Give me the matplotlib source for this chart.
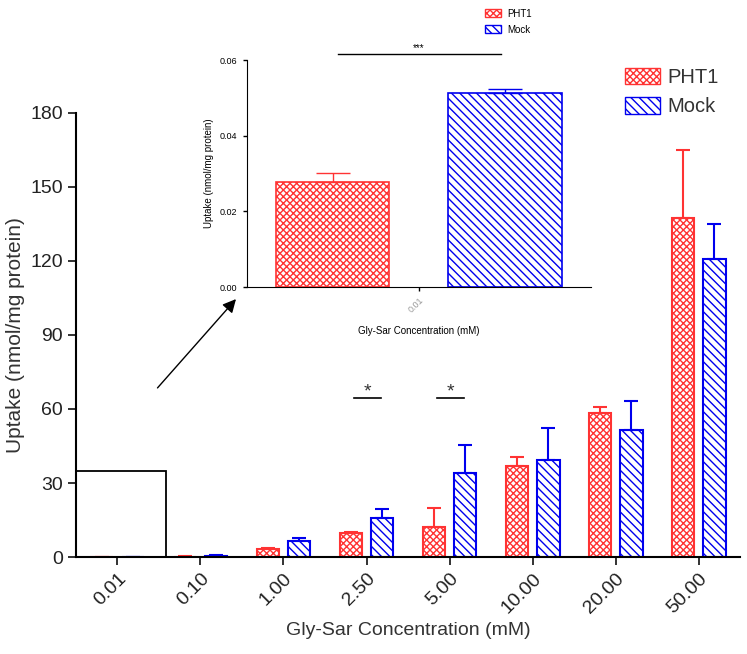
import numpy as np
import matplotlib
matplotlib.use("Agg")
import matplotlib.pyplot as plt
from matplotlib.patches import Rectangle, Patch

plt.rcParams['font.family'] = ['Liberation Sans', 'DejaVu Sans']
plt.rcParams['hatch.linewidth'] = 1.0

# main chart data
concentrations = ["0.01", "0.10", "1.00", "2.50", "5.00", "10.00", "20.00", "50.00"]
pht1_mean = [0.028, 0.2, 3.2, 9.6, 12.2, 36.9, 58.5, 137.3]
pht1_err = [0.002, 0.1, 0.4, 0.5, 7.8, 3.5, 2.2, 27.7]
mock_mean = [0.051, 0.6, 6.5, 15.8, 33.9, 39.3, 51.5, 120.8]
mock_err = [0.001, 0.2, 1.3, 3.8, 11.5, 13.0, 11.7, 14.3]

# inset (0.01 mM only)
inset_label = ["0.01"]
inset_pht1 = [0.0278]
inset_pht1_err = [0.0023]
inset_mock = [0.0514]
inset_mock_err = [0.0010]

red = "#ff3333"
blue = "#0000ee"

fig = plt.figure(figsize=(7.47, 6.54), dpi=100)
ax = fig.add_axes([0.1017, 0.1483, 0.889, 0.679])

x = np.arange(len(concentrations))
w = 0.27
off = 0.19
ax.bar(x - off, pht1_mean, w, color="white", edgecolor=red, hatch="xxxxx", linewidth=1.5,
       yerr=[np.zeros(len(x)), pht1_err], error_kw=dict(ecolor=red, capsize=5, elinewidth=1.5, capthick=1.5))
ax.bar(x + off, mock_mean, w, color="white", edgecolor=blue, hatch="\\\\\\\\", linewidth=1.5,
       yerr=[np.zeros(len(x)), mock_err], error_kw=dict(ecolor=blue, capsize=5, elinewidth=1.5, capthick=1.5))

ax.set_xlim(-0.5, 7.5)
ax.set_ylim(0, 180)
ax.set_yticks([0, 30, 60, 90, 120, 150, 180])
ax.set_xticks(x)
ax.set_xticklabels(concentrations, rotation=45, ha="right", rotation_mode="anchor")
ax.tick_params(axis="both", labelsize=14, colors="#222222", width=1.3, length=6)
for s in ["top", "right"]:
    ax.spines[s].set_visible(False)
for s in ["left", "bottom"]:
    ax.spines[s].set_linewidth(1.5)
ax.set_ylabel("Uptake (nmol/mg protein)", fontsize=15, color="#333333")
ax.set_xlabel("Gly-Sar Concentration (mM)", fontsize=14, color="#333333")

# significance marks
for xi, y in [(3, 64.5), (4, 64.5)]:
    ax.plot([xi - 0.15, xi + 0.18], [y, y], color="black", lw=1.2)
    ax.text(xi + 0.01, y - 1.2, "*", ha="center", va="bottom", fontsize=14, color="#333333")

# zoom box and arrow
ax.add_patch(Rectangle((-0.5, 0), 1.08, 35, fill=False, edgecolor="black", lw=1.3, clip_on=False))
ax.annotate("", xy=(1.45, 105.4), xytext=(0.46, 67.7),
            arrowprops=dict(arrowstyle="-|>", color="black", lw=1.0, mutation_scale=20))

# main legend
handles = [Patch(facecolor="white", edgecolor=red, hatch="xxxxx", label="PHT1"),
           Patch(facecolor="white", edgecolor=blue, hatch="\\\\\\\\", label="Mock")]
fig.legend(handles=handles, loc="upper left", bbox_to_anchor=(0.823, 0.912), frameon=False,
           borderpad=0, fontsize=14.5, handlelength=1.75, handleheight=0.9, handletextpad=0.35,
           labelspacing=0.5, labelcolor="#333333")

# inset
ins = fig.add_axes([0.330, 0.561, 0.461, 0.347])
xi = np.arange(len(inset_label))
ins.bar(xi - 0.5, inset_pht1, 0.66, color="white", edgecolor=red, hatch="xxxxx", linewidth=1.2,
        yerr=[[0], inset_pht1_err], error_kw=dict(ecolor=red, capsize=12, elinewidth=1.0, capthick=1.0))
ins.bar(xi + 0.5, inset_mock, 0.66, color="white", edgecolor=blue, hatch="\\\\\\\\", linewidth=1.2,
        yerr=[[0], inset_mock_err], error_kw=dict(ecolor=blue, capsize=12, elinewidth=1.0, capthick=1.0))
ins.set_xlim(-1, 1)
ins.set_ylim(0, 0.06)
ins.set_yticks([0, 0.02, 0.04, 0.06])
ins.set_yticklabels(["0.00", "0.02", "0.04", "0.06"])
ins.set_xticks(xi)
ins.set_xticklabels(inset_label, rotation=45, ha="right", rotation_mode="anchor", color="#999999")
ins.tick_params(axis="both", labelsize=6.5, width=1.0, length=3)
for s in ["top", "right"]:
    ins.spines[s].set_visible(False)
ins.set_ylabel("Uptake (nmol/mg protein)", fontsize=7)
ins.set_xlabel("Gly-Sar Concentration (mM)", fontsize=7, labelpad=8)
ins.plot([-0.47, 0.48], [0.0616, 0.0616], color="black", lw=1.0, clip_on=False)
ins.text(0.0, 0.0618, "***", ha="center", va="bottom", fontsize=7)
fig.legend(handles=handles, loc="upper left", bbox_to_anchor=(0.643, 0.994), frameon=False,
           borderpad=0, fontsize=7, handlelength=1.65, handleheight=0.9, handletextpad=0.6,
           labelspacing=0.6)

fig.savefig("out.png", dpi=100)
